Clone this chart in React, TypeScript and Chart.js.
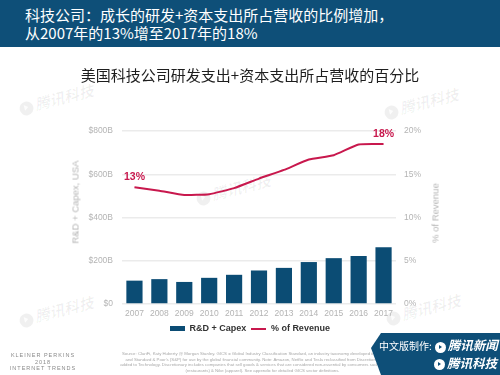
import React, { useEffect, useRef } from "react";
import { Chart, registerables } from "chart.js";

Chart.register(...registerables);

const years = ["2007", "2008", "2009", "2010", "2011", "2012", "2013", "2014", "2015", "2016", "2017"];
const rdCapex = [108, 115, 102, 121, 135, 155, 167, 194, 212, 222, 262];
const pctRevenue = [13.5, 13.1, 12.6, 12.7, 13.4, 14.5, 15.5, 16.7, 17.2, 18.45, 18.5];
const labelIndexes = [0, 10];
const labelTexts = ["13%", "18%"];
const leftTickMax = 800;
const leftTickStep = 200;
const rightTickMax = 20;
const rightTickStep = 5;
const seriesNames = ["R&D + Capex", "% of Revenue"];

const BAR = "#0b4c74";
const LINE = "#c8184d";
const TICK = "#b4b4b4";
const CJK = '"Noto Sans CJK SC", "Noto Sans", sans-serif';
const LAT = '"Liberation Sans", Arial, sans-serif';

const endLabelPlugin = {
  id: "endLabels",
  afterDatasetsDraw(chart: any) {
    const meta = chart.getDatasetMeta(1);
    const ctx = chart.ctx;
    ctx.save();
    ctx.font = `bold 10.5px ${LAT}`;
    ctx.fillStyle = LINE;
    ctx.textAlign = "center";
    ctx.textBaseline = "middle";
    labelIndexes.forEach((idx, i) => {
      const p = meta.data[idx];
      if (p) ctx.fillText(labelTexts[i], p.x, p.y - 10);
    });
    ctx.restore();
  },
};

function makeSwatch(w: number, h: number, color: string) {
  const c = document.createElement("canvas");
  c.width = w;
  c.height = h;
  const x = c.getContext("2d")!;
  x.fillStyle = color;
  x.fillRect(0, 0, w, h);
  return c;
}

function Logo({ size, color, inner }: { size: number; color: string; inner: string }) {
  return (
    <span
      style={{
        display: "inline-block",
        width: size,
        height: size,
        borderRadius: "50%",
        background: color,
        position: "relative",
        verticalAlign: "middle",
        marginRight: 2,
      }}
    >
      <span
        style={{
          position: "absolute",
          left: size * 0.38,
          top: size * 0.25,
          width: 0,
          height: 0,
          borderTop: `${size * 0.25}px solid transparent`,
          borderBottom: `${size * 0.25}px solid transparent`,
          borderLeft: `${size * 0.35}px solid ${inner}`,
        }}
      />
    </span>
  );
}

function Watermark({ left, top }: { left: number; top: number }) {
  return (
    <div
      style={{
        position: "absolute",
        left,
        top,
        transform: "rotate(-14deg)",
        color: "rgba(0,0,0,0.06)",
        fontFamily: CJK,
        fontWeight: "bold",
        fontStyle: "italic",
        fontSize: 15,
        whiteSpace: "nowrap",
        pointerEvents: "none",
      }}
    >
      <Logo size={14} color="rgba(0,0,0,0.06)" inner="rgba(255,255,255,0.8)" />
      腾讯科技
    </div>
  );
}

export default function App() {
  const ref = useRef<HTMLCanvasElement>(null);

  useEffect(() => {
    if (!ref.current) return;
    const barSw = makeSwatch(15, 5, BAR);
    const lineSw = makeSwatch(15, 2, LINE);
    const chart = new Chart(ref.current, {
      type: "bar",
      data: {
        labels: years,
        datasets: [
          {
            type: "bar",
            label: seriesNames[0],
            data: rdCapex,
            backgroundColor: BAR,
            yAxisID: "y",
            categoryPercentage: 1,
            barPercentage: 0.65,
            order: 2,
          },
          {
            type: "line",
            label: seriesNames[1],
            data: pctRevenue,
            borderColor: LINE,
            backgroundColor: LINE,
            borderWidth: 2,
            pointRadius: 0,
            tension: 0.15,
            yAxisID: "y1",
            order: 1,
          } as any,
        ],
      },
      options: {
        responsive: false,
        animation: false,
        layout: { padding: { top: 131, bottom: 32, left: 0, right: 0 } },
        plugins: {
          tooltip: { enabled: false },
          legend: {
            position: "bottom",
            labels: {
              usePointStyle: true,
              pointStyleWidth: 15,
              padding: 5,
              color: "#333",
              font: { family: LAT, size: 9, weight: "bold" },
              generateLabels: () => [
                { text: seriesNames[0], pointStyle: barSw, fillStyle: BAR, strokeStyle: BAR, lineWidth: 0, hidden: false, datasetIndex: 0, fontColor: "#333" } as any,
                { text: seriesNames[1], pointStyle: lineSw, fillStyle: LINE, strokeStyle: LINE, lineWidth: 0, hidden: false, datasetIndex: 1, fontColor: "#333" } as any,
              ],
            },
          },
        },
        scales: {
          x: {
            grid: { display: false, drawTicks: false },
            border: { display: false },
            ticks: { color: TICK, font: { family: LAT, size: 8.5 }, padding: 5, maxRotation: 0 },
            afterFit: (s: any) => {
              s.height = 15;
            },
          },
          y: {
            position: "left",
            min: 0,
            max: leftTickMax,
            grid: { color: "#ebebeb", lineWidth: 1.5, drawTicks: false },
            border: { display: false },
            ticks: {
              stepSize: leftTickStep,
              color: TICK,
              padding: 9,
              font: { family: LAT, size: 8.5 },
              callback: (v: any) => (v === 0 ? "$0" : `$${v}B`),
            },
            afterFit: (s: any) => {
              s.width = 122;
            },
          },
          y1: {
            position: "right",
            min: 0,
            max: rightTickMax,
            grid: { display: false, drawTicks: false },
            border: { display: false },
            ticks: {
              stepSize: rightTickStep,
              color: TICK,
              padding: 8,
              font: { family: LAT, size: 8.5 },
              callback: (v: any) => `${v}%`,
            },
            afterFit: (s: any) => {
              s.width = 104;
            },
          },
        },
      },
      plugins: [endLabelPlugin],
    } as any);
    return () => chart.destroy();
  }, []);

  return (
    <div
      style={{
        position: "fixed",
        left: 0,
        top: 0,
        width: 500,
        height: 375,
        background: "#fff",
        overflow: "hidden",
      }}
    >
      {/* watermarks */}
      <Watermark left={18} top={88} />
      <Watermark left={383} top={92} />
      <Watermark left={195} top={178} />
      <Watermark left={18} top={300} />
      <Watermark left={385} top={298} />

      <canvas ref={ref} width={500} height={375} style={{ position: "absolute", left: 0, top: 0, width: 500, height: 375 }} />

      {/* header */}
      <div
        style={{
          position: "absolute",
          left: 0,
          top: 0,
          width: 500,
          height: 47,
          background: "#0e4f78",
          color: "#fff",
          fontFamily: CJK,
          fontSize: 15,
          lineHeight: "18px",
          boxSizing: "border-box",
          paddingLeft: 25,
          paddingTop: 6,
        }}
      >
        <div>科技公司：成长的研发+资本支出所占营收的比例增加，</div>
        <div>从2007年的13%增至2017年的18%</div>
      </div>

      {/* chart title */}
      <div
        style={{
          position: "absolute",
          left: 0,
          top: 65,
          width: 500,
          textAlign: "center",
          fontFamily: CJK,
          fontSize: 15,
          lineHeight: "20px",
          color: "#1e1e1e",
        }}
      >
        美国科技公司研发支出+资本支出所占营收的百分比
      </div>

      {/* axis titles */}
      <div
        style={{
          position: "absolute",
          left: 75,
          top: 202,
          transform: "translate(-50%, -50%) rotate(-90deg)",
          fontFamily: LAT,
          fontSize: 9.5,
          color: TICK,
          whiteSpace: "nowrap",
        }}
      >
        R&amp;D + Capex, USA
      </div>
      <div
        style={{
          position: "absolute",
          left: 435,
          top: 213,
          transform: "translate(-50%, -50%) rotate(-90deg)",
          fontFamily: LAT,
          fontSize: 9.5,
          color: TICK,
          whiteSpace: "nowrap",
        }}
      >
        % of Revenue
      </div>

      {/* footer left */}
      <div
        style={{
          position: "absolute",
          left: 4,
          top: 352,
          width: 78,
          textAlign: "center",
          fontFamily: LAT,
          fontSize: 5.5,
          lineHeight: "6.5px",
          color: "#8a8a8a",
          letterSpacing: 1,
        }}
      >
        <div>KLEINER PERKINS</div>
        <div>2018</div>
        <div>INTERNET TRENDS</div>
      </div>

      {/* source */}
      <div
        style={{
          position: "absolute",
          left: 120,
          top: 351,
          width: 285,
          textAlign: "center",
          fontFamily: LAT,
          fontSize: 4.3,
          lineHeight: "5.5px",
          color: "#a8a8a8",
        }}
      >
        Source: ClariFi, Katy Huberty @ Morgan Stanley. GICS = Global Industry Classification Standard, an industry taxonomy developed in 1999 by MSCI and Standard &amp; Poor's (S&amp;P) for use by the global financial community. Note: Amazon, Netflix and Tesla reclassified from Discretionary Sector &amp; added to Technology. Discretionary includes companies that sell goods &amp; services that are considered non-essential by consumers such as Starbucks (restaurants) &amp; Nike (apparel). See appendix for detailed GICS sector definitions.
      </div>

      {/* badge */}
      <div
        style={{
          position: "absolute",
          left: 371,
          top: 333,
          width: 129,
          height: 42,
          background: "#0e4f78",
          clipPath: "polygon(10px 0, 100% 0, 100% 100%, 10px 100%, 0 36%)",
        }}
      />
      <div
        style={{
          position: "absolute",
          left: 379,
          top: 336,
          width: 120,
          color: "#fff",
          fontFamily: CJK,
          whiteSpace: "nowrap",
        }}
      >
        <div style={{ fontSize: 10, lineHeight: "17px" }}>
          中文版制作:
          <span style={{ marginLeft: 3 }}>
            <Logo size={11} color="#fff" inner="#0e4f78" />
          </span>
          <span style={{ fontSize: 12.5, fontWeight: "bold", fontStyle: "italic" }}>腾讯新闻</span>
        </div>
        <div style={{ fontSize: 12.5, lineHeight: "18px", paddingLeft: 55, fontWeight: "bold", fontStyle: "italic" }}>
          <Logo size={11} color="#fff" inner="#0e4f78" />
          腾讯科技
        </div>
      </div>
    </div>
  );
}
